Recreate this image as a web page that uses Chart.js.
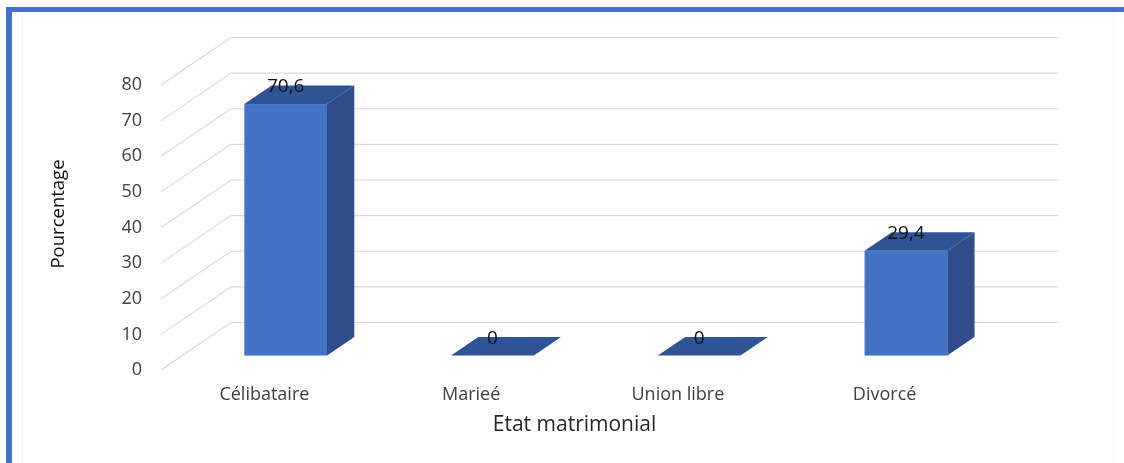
<!DOCTYPE html>
<html>
<head>
<meta charset="utf-8">
<script src="https://cdn.jsdelivr.net/npm/chart.js@4/dist/chart.umd.min.js"></script>
<style>
  html, body { margin: 0; padding: 0; background: #fff; }
  #wrap { position: absolute; left: 0; top: 0; width: 1124px; height: 463px; }
</style>
</head>
<body>
<div id="wrap"><canvas id="c" width="1124" height="463"></canvas></div>
<script>
// ---- data ----
const categories = ['Célibataire', 'Marieé', 'Union libre', 'Divorcé'];
const percentages = [70.6, 0, 0, 29.4];
const yTicks = [0, 10, 20, 30, 40, 50, 60, 70, 80];
const xTitle = 'Etat matrimonial';
const yTitle = 'Pourcentage';

// ---- 3D look ----
const DEPTH = { x: 70, y: -47.5 };      // floor depth vector
const BAR_FRONT = 0.304;                // bar front face position within depth
const BAR_DEPTH = 0.39;                 // bar depth fraction
const COL_FRONT = '#4472C4';
const COL_SIDE = '#2E4D8A';
const COL_TOP = '#2F5495';
const GRID = '#D9D9D9';

const fmt = v => String(v).replace('.', ',');

const bg3d = {
  id: 'bg3d',
  beforeDraw(chart) {
    const ctx = chart.ctx;
    ctx.save();
    ctx.fillStyle = '#fff';
    ctx.fillRect(0, 0, chart.width, chart.height);
    // faint inner frame lines
    ctx.fillStyle = '#F3F3F3';
    ctx.fillRect(22, 12, 1, chart.height - 12);
    ctx.fillRect(1114, 12, 1, chart.height - 12);
    // blue frame
    ctx.fillStyle = '#4472C4';
    ctx.fillRect(6, 7, 6, chart.height - 7);
    ctx.fillRect(6, 7, chart.width - 6, 5);
    ctx.restore();
  },
  beforeDatasetsDraw(chart) {
    const ctx = chart.ctx;
    const ys = chart.scales.y;
    const area = chart.chartArea;
    ctx.save();
    ctx.strokeStyle = GRID;
    ctx.lineWidth = 1.2;
    yTicks.forEach(t => {
      const y = ys.getPixelForValue(t);
      ctx.beginPath();
      ctx.moveTo(area.left, y);
      ctx.lineTo(area.left + DEPTH.x, y + DEPTH.y);
      ctx.lineTo(area.right + DEPTH.x, y + DEPTH.y);
      ctx.stroke();
    });
    ctx.restore();
  },
  afterDatasetsDraw(chart) {
    const ctx = chart.ctx;
    const meta = chart.getDatasetMeta(0);
    const fx = DEPTH.x * BAR_FRONT, fy = DEPTH.y * BAR_FRONT;
    const dx = DEPTH.x * BAR_DEPTH, dy = DEPTH.y * BAR_DEPTH;
    ctx.save();
    meta.data.forEach((bar, i) => {
      const w = bar.width;
      const l = bar.x - w / 2 + fx, r = bar.x + w / 2 + fx;
      const top = bar.y + fy, base = bar.base + fy;
      if (base - top > 0.5) {
        // side face
        ctx.fillStyle = COL_SIDE;
        ctx.beginPath();
        ctx.moveTo(r, top);
        ctx.lineTo(r + dx, top + dy);
        ctx.lineTo(r + dx, base + dy);
        ctx.lineTo(r, base);
        ctx.closePath();
        ctx.fill();
        // front face
        ctx.fillStyle = COL_FRONT;
        ctx.fillRect(l, top, w, base - top);
      }
      // top face
      ctx.fillStyle = COL_TOP;
      ctx.beginPath();
      ctx.moveTo(l, top);
      ctx.lineTo(l + dx, top + dy);
      ctx.lineTo(r + dx, top + dy);
      ctx.lineTo(r, top);
      ctx.closePath();
      ctx.fill();
      // value label
      ctx.fillStyle = '#111';
      ctx.font = '19px "Open Sans"';
      ctx.textAlign = 'center';
      ctx.textBaseline = 'middle';
      ctx.fillText(fmt(percentages[i]), bar.x + fx, top - 17);
    });
    ctx.restore();
  },
  afterDraw(chart) {
    // vertical axis title
    const ctx = chart.ctx;
    ctx.save();
    ctx.translate(59, 214);
    ctx.rotate(-Math.PI / 2);
    ctx.fillStyle = '#111';
    ctx.font = '18.5px "Open Sans"';
    ctx.textAlign = 'center';
    ctx.textBaseline = 'middle';
    ctx.fillText(yTitle, 0, 0);
    ctx.restore();
  }
};

new Chart(document.getElementById('c'), {
  type: 'bar',
  data: {
    labels: categories,
    datasets: [{
      data: percentages,
      backgroundColor: 'rgba(0,0,0,0)',
      borderWidth: 0,
      categoryPercentage: 1,
      barPercentage: 0.4
    }]
  },
  options: {
    responsive: false,
    animation: false,
    devicePixelRatio: 1,
    layout: { padding: { left: 40, right: 136, top: 85, bottom: 0 } },
    plugins: { legend: { display: false }, tooltip: { enabled: false } },
    scales: {
      x: {
        grid: { display: false, drawTicks: false },
        border: { display: false },
        ticks: { color: '#404040', font: { family: 'Open Sans', size: 18 }, padding: 14, maxRotation: 0 },
        title: { display: true, text: xTitle, color: '#262626', font: { family: 'Open Sans', size: 21 }, padding: { top: 0, bottom: 25 } },
        afterFit(s) { s.height = 93; }
      },
      y: {
        min: 0, max: 80,
        afterBuildTicks(s) { s.ticks = yTicks.map(v => ({ value: v })); },
        grid: { display: false, drawTicks: false },
        border: { display: false },
        ticks: { color: '#404040', font: { family: 'Open Sans', size: 18 }, padding: 19 },
        title: { display: false },
        afterFit(s) { s.width = 121; }
      }
    }
  },
  plugins: [bg3d]
});
</script>
</body>
</html>
